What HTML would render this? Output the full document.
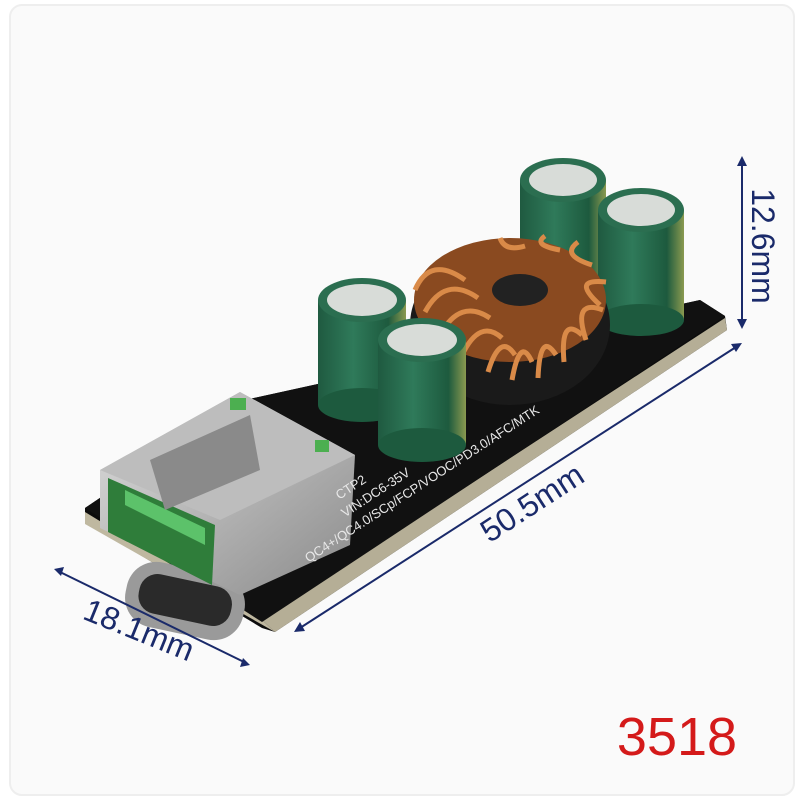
<!DOCTYPE html>
<html><head><meta charset="utf-8"><style>
html,body{margin:0;padding:0;background:#fff;}
svg{display:block}
</style></head><body>
<svg width="800" height="800" viewBox="0 0 800 800" xmlns="http://www.w3.org/2000/svg" font-family="Liberation Sans, sans-serif">
<defs>
<linearGradient id="cap" x1="0" x2="1" y1="0" y2="0">
<stop offset="0" stop-color="#1f5a40"/><stop offset="0.4" stop-color="#2f7a5a"/><stop offset="0.8" stop-color="#1d5a3e"/><stop offset="1" stop-color="#8a9a50"/>
</linearGradient>
<linearGradient id="metal" x1="0" x2="1" y1="0" y2="1">
<stop offset="0" stop-color="#e0e0e0"/><stop offset="1" stop-color="#8a8a8a"/>
</linearGradient>
</defs>
<rect x="0" y="0" width="800" height="800" fill="#fff"/>
<rect x="10" y="5" width="784" height="790" rx="12" fill="#fafafa" stroke="#eeeeee" stroke-width="2"/>
<!-- board -->
<polygon points="85,508 245,400 700,300 725,316 727,330 275,632 262,628 85,522" fill="#0c0c0c"/>
<polygon points="85,512 262,620 275,632 85,524" fill="#bfb8a0"/>
<polygon points="262,620 725,318 727,330 275,632" fill="#b5ae96"/>
<polygon points="85,508 245,400 700,300 725,316 262,622" fill="#111"/>
<!-- caps back -->
<g>
<rect x="520" y="180" width="86" height="130" fill="url(#cap)"/>
<ellipse cx="563" cy="310" rx="43" ry="18" fill="#1d5a3e"/>
<ellipse cx="563" cy="180" rx="43" ry="22" fill="#2b6e50"/>
<ellipse cx="563" cy="180" rx="34" ry="16" fill="#d8dcd8"/>
<rect x="598" y="210" width="86" height="110" fill="url(#cap)"/>
<ellipse cx="641" cy="320" rx="43" ry="16" fill="#1d5a3e"/>
<ellipse cx="641" cy="210" rx="43" ry="22" fill="#2b6e50"/>
<ellipse cx="641" cy="210" rx="34" ry="16" fill="#d8dcd8"/>
</g>
<!-- toroid -->
<ellipse cx="510" cy="325" rx="100" ry="80" fill="#1a1a1a"/>
<ellipse cx="510" cy="300" rx="96" ry="62" fill="#8a4a20"/>
<g stroke="#d98a48" stroke-width="5" fill="none">
<path d="M415,290 Q430,255 465,280"/><path d="M425,312 Q445,275 478,298"/><path d="M440,335 Q460,298 490,318"/>
<path d="M462,355 Q480,318 502,338"/><path d="M488,372 Q500,332 515,355"/><path d="M512,380 Q520,335 532,362"/>
<path d="M538,378 Q540,330 556,355"/><path d="M564,362 Q560,315 582,335"/><path d="M586,340 Q572,298 603,310"/>
<path d="M600,305 Q570,278 606,282"/><path d="M592,265 Q560,255 578,242"/><path d="M560,250 Q532,245 545,236"/>
<path d="M525,246 Q505,252 500,238"/>
</g>
<ellipse cx="520" cy="290" rx="28" ry="16" fill="#222"/>
<!-- caps front -->
<rect x="318" y="300" width="88" height="105" fill="url(#cap)"/>
<ellipse cx="362" cy="405" rx="44" ry="17" fill="#1d5a3e"/>
<ellipse cx="362" cy="300" rx="44" ry="22" fill="#2b6e50"/>
<ellipse cx="362" cy="300" rx="35" ry="16" fill="#d8dcd8"/>
<rect x="378" y="340" width="88" height="105" fill="url(#cap)"/>
<ellipse cx="422" cy="445" rx="44" ry="17" fill="#1d5a3e"/>
<ellipse cx="422" cy="340" rx="44" ry="22" fill="#2b6e50"/>
<ellipse cx="422" cy="340" rx="35" ry="16" fill="#d8dcd8"/>
<!-- USB-C -->
<rect x="125" y="568" width="120" height="66" rx="30" fill="#9a9a9a" transform="rotate(12 185 601)"/>
<rect x="138" y="580" width="94" height="40" rx="18" fill="#2a2a2a" transform="rotate(12 185 601)"/>
<!-- USB-A -->
<polygon points="100,470 240,392 355,455 350,545 240,595 100,528" fill="url(#metal)"/>
<polygon points="100,470 240,392 355,455 220,520" fill="#bdbdbd"/>
<polygon points="108,478 215,525 212,585 108,532" fill="#2f7d3a"/>
<polygon points="125,490 205,528 205,545 125,505" fill="#5cc26a"/>
<polygon points="150,460 250,415 260,470 165,510" fill="#8a8a8a"/>
<rect x="230" y="398" width="16" height="12" fill="#4caf50"/>
<rect x="315" y="440" width="14" height="12" fill="#4caf50"/>
<!-- board text -->
<g fill="#e8e8e8" font-size="13" transform="rotate(-33 400 520)">
<text x="360" y="470">CTP2</text>
<text x="355" y="488">VIN:DC6-35V</text>
<text x="300" y="506">QC4+/QC4.0/SCp/FCP/VOOC/PD3.0/AFC/MTK</text>
</g>
<!-- dimensions -->
<g stroke="#1a2a6a" stroke-width="2" fill="#1a2a6a">
<line x1="742" y1="162" x2="742" y2="323"/>
<polygon points="742,156 737,166 747,166" stroke="none"/>
<polygon points="742,329 737,319 747,319" stroke="none"/>
<line x1="300" y1="628" x2="736" y2="347"/>
<polygon points="294,632 300,622 305,631" stroke="none"/>
<polygon points="742,343 731,344 736,352" stroke="none"/>
<line x1="60" y1="572" x2="244" y2="662"/>
<polygon points="54,569 64,567 61,576" stroke="none"/>
<polygon points="250,665 240,667 243,658" stroke="none"/>
</g>
<g fill="#1a2a6a" font-size="32">
<text x="752" y="246" transform="rotate(90 752 246)" text-anchor="middle">12.6mm</text>
<text x="538" y="512" transform="rotate(-33 538 512)" text-anchor="middle">50.5mm</text>
<text x="135" y="640" transform="rotate(22 135 640)" text-anchor="middle">18.1mm</text>
</g>
<text x="677" y="755" fill="#d41a1a" font-size="54" text-anchor="middle">3518</text>
</svg>
</body></html>
